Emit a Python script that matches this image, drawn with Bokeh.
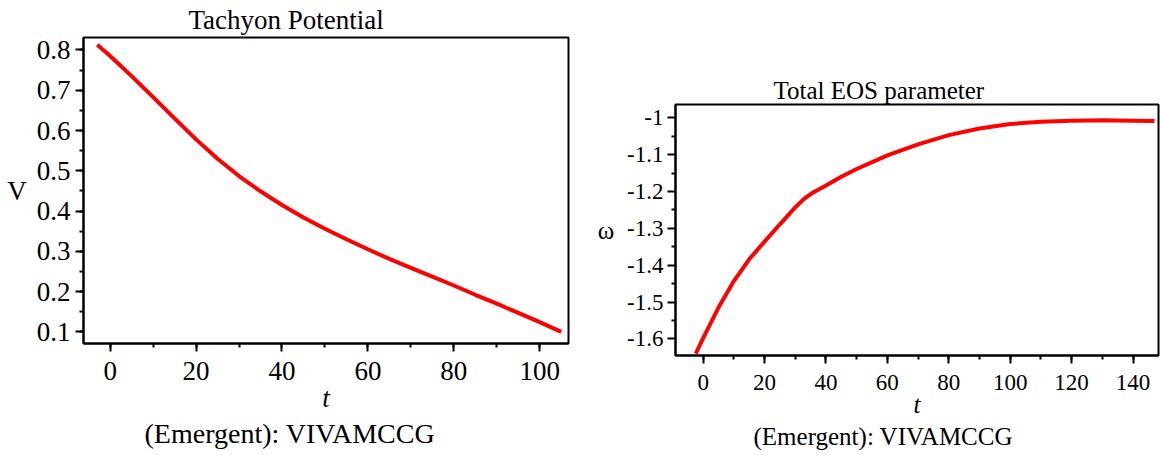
from bokeh.plotting import figure
from bokeh.layouts import row, column
from bokeh.models import Title, Range1d, SingleIntervalTicker, FixedTicker, CustomJSTickFormatter, Spacer
from bokeh.embed import file_html
from bokeh.resources import INLINE

# ---- data: Tachyon potential ----
t_pot = [-3, 0, 5, 10, 15, 20, 25, 30, 35, 40, 45, 50, 55, 60, 65, 70, 75, 80, 85, 90, 95, 100, 105]
V_pot = [0.813, 0.785, 0.735, 0.683, 0.630, 0.578, 0.530, 0.487, 0.449, 0.415, 0.384, 0.356,
         0.330, 0.305, 0.281, 0.259, 0.237, 0.215, 0.192, 0.170, 0.147, 0.124, 0.100]

# ---- data: Total EOS parameter ----
t_eos = [-2.4, 0, 5, 10, 15, 20, 25, 30, 33, 36, 40, 45, 50, 60, 70, 80, 90, 100, 110, 120, 130, 140, 147]
w_eos = [-1.640, -1.598, -1.515, -1.443, -1.384, -1.336, -1.289, -1.243, -1.219, -1.202, -1.184,
         -1.160, -1.139, -1.102, -1.072, -1.047, -1.029, -1.017, -1.011, -1.008, -1.007, -1.008, -1.009]

eos_yticks = [-1.6, -1.5, -1.4, -1.3, -1.2, -1.1, -1.0]
eos_yminor = [-1.65, -1.55, -1.45, -1.35, -1.25, -1.15, -1.05, -0.95]

FONT = "Liberation Serif"
RED = "#ff0000"


def style(p, tick_size, label_size):
    p.outline_line_color = "black"
    p.outline_line_width = 2
    p.outline_line_alpha = 1
    p.grid.visible = False
    p.background_fill_color = "white"
    p.border_fill_color = "white"
    for ax in (p.xaxis[0], p.yaxis[0]):
        ax.axis_line_width = 2
        ax.axis_line_color = "black"
        ax.major_tick_in = 0
        ax.major_tick_out = 8
        ax.minor_tick_in = 0
        ax.minor_tick_out = 4
        ax.major_tick_line_width = 2
        ax.minor_tick_line_width = 2
        ax.major_tick_line_color = "black"
        ax.minor_tick_line_color = "black"
        ax.major_label_text_font = FONT
        ax.major_label_text_font_size = tick_size
        ax.major_label_text_color = "black"
        ax.axis_label_text_font = FONT
        ax.axis_label_text_font_size = label_size
        ax.axis_label_text_color = "black"
    p.xaxis[0].axis_label_text_font_style = "italic"
    p.yaxis[0].axis_label_text_font_style = "normal"
    try:
        p.yaxis[0].axis_label_orientation = "horizontal"
    except Exception:
        pass


# ---------------- left plot ----------------
p1 = figure(width=580, height=455, x_range=Range1d(-6.2, 106.7), y_range=Range1d(0.071, 0.831),
            output_backend="svg", toolbar_location=None,
            min_border_left=83, min_border_right=12, min_border_top=35, min_border_bottom=112)
p1.line(t_pot, V_pot, line_color=RED, line_width=4)
style(p1, "27px", "27px")
p1.xaxis[0].ticker = SingleIntervalTicker(interval=20, num_minor_ticks=2)
p1.yaxis[0].ticker = SingleIntervalTicker(interval=0.1, num_minor_ticks=2)
p1.xaxis[0].axis_label = "t"
p1.yaxis[0].axis_label = "V"
p1.xaxis[0].major_label_standoff = 10
p1.yaxis[0].major_label_standoff = 5
p1.xaxis[0].axis_label_standoff = 0
p1.yaxis[0].axis_label_standoff = 7
p1.add_layout(Title(text="Tachyon Potential", align="left", offset=105, standoff=5,
                    text_font=FONT, text_font_size="27px", text_font_style="normal",
                    text_color="black"), "above")
p1.add_layout(Title(text="(Emergent): VIVAMCCG", align="left", offset=61, standoff=0,
                    text_font=FONT, text_font_size="28px", text_font_style="normal",
                    text_color="black"), "below")

# ---------------- right plot ----------------
p2 = figure(width=580, height=386, x_range=Range1d(-9.0, 148.3), y_range=Range1d(-1.645, -0.964),
            output_backend="svg", toolbar_location=None,
            min_border_left=95, min_border_right=2, min_border_top=35, min_border_bottom=100)
p2.line(t_eos, w_eos, line_color=RED, line_width=4)
style(p2, "23px", "25px")
p2.xaxis[0].ticker = SingleIntervalTicker(interval=20, num_minor_ticks=2)
p2.yaxis[0].ticker = FixedTicker(ticks=eos_yticks, minor_ticks=eos_yminor)
p2.yaxis[0].formatter = CustomJSTickFormatter(
    code="return Number.isInteger(tick) ? tick.toString() : tick.toFixed(1);")
p2.xaxis[0].axis_label = "t"
p2.yaxis[0].axis_label = "ω"
p2.xaxis[0].major_label_standoff = 11
p2.yaxis[0].major_label_standoff = 4
p2.xaxis[0].axis_label_standoff = -2
p2.yaxis[0].axis_label_standoff = 10
p2.add_layout(Title(text="Total EOS parameter", align="left", offset=98, standoff=1,
                    text_font=FONT, text_font_size="25px", text_font_style="normal",
                    text_color="black"), "above")
p2.add_layout(Title(text="(Emergent): VIVAMCCG", align="left", offset=78, standoff=0,
                    text_font=FONT, text_font_size="25px", text_font_style="normal",
                    text_color="black"), "below")

layout = row(p1, column(Spacer(width=580, height=69), p2, spacing=0), spacing=0)
open("out.html", "w").write(file_html(layout, INLINE))
